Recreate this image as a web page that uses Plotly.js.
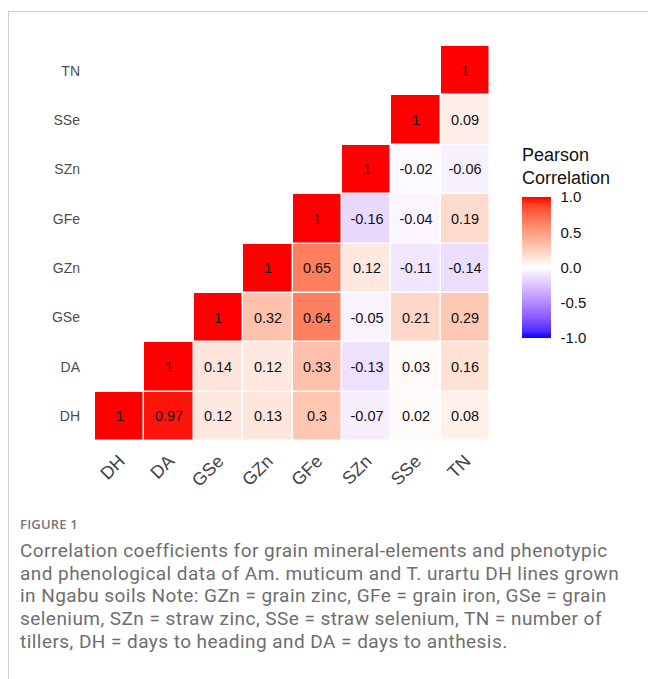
<!DOCTYPE html>
<html>
<head>
<meta charset="utf-8">
<script src="https://cdn.plot.ly/plotly-3.0.1.min.js"></script>
<style>
html,body{margin:0;padding:0;background:#fff;width:648px;height:679px;overflow:hidden;}
#frame{position:absolute;left:8px;top:11px;width:700px;height:700px;border:1px solid #cfcfcf;box-sizing:border-box;}
#chart{position:absolute;left:0;top:0;width:648px;height:679px;}
#fig{position:absolute;left:20px;top:515px;font-family:"Open Sans",sans-serif;font-size:13px;font-weight:600;color:#777;letter-spacing:0.2px;}
#cap{position:absolute;left:20px;top:540px;width:628px;font-family:Roboto,sans-serif;font-size:19px;line-height:22.7px;color:#6e6e6e;white-space:nowrap;letter-spacing:0.45px;}
</style>
</head>
<body>
<div id="frame"></div>
<div id="chart"></div>
<div id="fig">FIGURE 1</div>
<div id="cap">Correlation coefficients for grain mineral-elements and phenotypic<br>and phenological data of Am. muticum and T. urartu DH lines grown<br>in Ngabu soils Note: GZn = grain zinc, GFe = grain iron, GSe = grain<br>selenium, SZn = straw zinc, SSe = straw selenium, TN = number of<br>tillers, DH = days to heading and DA = days to anthesis.</div>
<script>
// Variables (x: left to right, y: bottom to top)
var vars = ['DH','DA','GSe','GZn','GFe','SZn','SSe','TN'];
// Correlation rows (row variable, values across columns)
var rowDH  = [1, 0.97, 0.12, 0.13, 0.3, -0.07, 0.02, 0.08];
var rowDA  = [null, 1, 0.14, 0.12, 0.33, -0.13, 0.03, 0.16];
var rowGSe = [null, null, 1, 0.32, 0.64, -0.05, 0.21, 0.29];
var rowGZn = [null, null, null, 1, 0.65, 0.12, -0.11, -0.14];
var rowGFe = [null, null, null, null, 1, -0.16, -0.04, 0.19];
var rowSZn = [null, null, null, null, null, 1, -0.02, -0.06];
var rowSSe = [null, null, null, null, null, null, 1, 0.09];
var rowTN  = [null, null, null, null, null, null, null, 1];
var colorTicks = [-1.0, -0.5, 0.0, 0.5, 1.0];

var z = [rowDH, rowDA, rowGSe, rowGZn, rowGFe, rowSZn, rowSSe, rowTN];
var text = z.map(function(r){ return r.map(function(v){ return v === null ? '' : String(v); }); });

// Lab interpolation blue - white - red (like ggplot2 gradient2)
function srgb2lin(c){ c/=255; return c<=0.04045? c/12.92 : Math.pow((c+0.055)/1.055,2.4); }
function lin2srgb(c){ c = c<=0.0031308? 12.92*c : 1.055*Math.pow(c,1/2.4)-0.055; return Math.max(0,Math.min(255,Math.round(c*255))); }
function rgb2lab(rgb){
  var r=srgb2lin(rgb[0]), g=srgb2lin(rgb[1]), b=srgb2lin(rgb[2]);
  var X=(0.4124*r+0.3576*g+0.1805*b)/0.95047, Y=(0.2126*r+0.7152*g+0.0722*b), Z=(0.0193*r+0.1192*g+0.9505*b)/1.08883;
  function f(t){ return t>0.008856? Math.cbrt(t) : 7.787*t+16/116; }
  var fx=f(X), fy=f(Y), fz=f(Z);
  return [116*fy-16, 500*(fx-fy), 200*(fy-fz)];
}
function lab2rgb(lab){
  var fy=(lab[0]+16)/116, fx=fy+lab[1]/500, fz=fy-lab[2]/200;
  function fi(t){ return t*t*t>0.008856? t*t*t : (t-16/116)/7.787; }
  var X=fi(fx)*0.95047, Y=fi(fy), Z=fi(fz)*1.08883;
  var r= 3.2406*X-1.5372*Y-0.4986*Z, g=-0.9689*X+1.8758*Y+0.0415*Z, b=0.0557*X-0.2040*Y+1.0570*Z;
  return 'rgb('+lin2srgb(r)+','+lin2srgb(g)+','+lin2srgb(b)+')';
}
var labB=rgb2lab([0,0,255]), labW=rgb2lab([255,255,255]), labR=rgb2lab([255,0,0]);
var cs=[];
var N=20;
for(var i=0;i<=N;i++){
  var t=i/N, a, b2, u;
  if(t<=0.5){ a=labB; b2=labW; u=t/0.5; } else { a=labW; b2=labR; u=(t-0.5)/0.5; }
  cs.push([t, lab2rgb([a[0]+(b2[0]-a[0])*u, a[1]+(b2[1]-a[1])*u, a[2]+(b2[2]-a[2])*u])]);
}

var FONT = 'Liberation Sans, Arial, sans-serif';
var PLOT_H = 679 - 46 - 238, PLOT_W = 648 - 95 - 158;
var CB_X = 1.081, CB_Y = 0.439, CB_LEN = 141, CB_TH = 29;

var trace = {
  type:'heatmap',
  x: vars, y: vars, z: z,
  text: text, texttemplate:'%{text}',
  textfont:{family:FONT, size:14.5, color:'#111'},
  colorscale: cs, zmin:-1, zmax:1,
  xgap:1.5, ygap:1.5, hoverongaps:false,
  colorbar:{
    x:CB_X, xanchor:'left', xref:'paper',
    y:CB_Y, yanchor:'middle',
    len:CB_LEN, lenmode:'pixels', thickness:CB_TH, thicknessmode:'pixels',
    xpad:0, ypad:0, outlinewidth:0,
    tickvals: colorTicks, ticktext: colorTicks.map(function(v){return v.toFixed(1);}),
    ticks:'outside', ticklen:7, tickcolor:'rgba(255,255,255,0)', tickwidth:1,
    tickfont:{family:FONT, size:15, color:'#111'}
  }
};

// white tick marks inside the colorbar (ggplot style), placed from the colorbar geometry
var shapes = [];
colorTicks.forEach(function(v){
  var yp = CB_Y + v * (CB_LEN/2) / PLOT_H;
  var x0 = CB_X, x1 = CB_X + CB_TH / PLOT_W, tl = 6 / PLOT_W;
  shapes.push({type:'line', xref:'paper', yref:'paper', x0:x0, x1:x0+tl, y0:yp, y1:yp, line:{color:'#fff', width:1.2}});
  shapes.push({type:'line', xref:'paper', yref:'paper', x0:x1-tl, x1:x1, y0:yp, y1:yp, line:{color:'#fff', width:1.2}});
});

var layout = {
  width:648, height:679,
  margin:{l:95, r:158, t:46, b:238},
  paper_bgcolor:'rgba(0,0,0,0)', plot_bgcolor:'rgba(0,0,0,0)',
  xaxis:{type:'category', categoryarray:vars, categoryorder:'array', showgrid:false, zeroline:false, showline:false,
         tickangle:-45, ticks:'', ticklabelstandoff:5,
         tickfont:{family:FONT, size:18, color:'#444'}},
  yaxis:{type:'category', categoryarray:vars, categoryorder:'array', showgrid:false, zeroline:false, showline:false,
         ticks:'', ticklabelstandoff:14,
         tickfont:{family:FONT, size:14, color:'#4d4d4d'}},
  annotations:[{
    text:'Pearson<br>Correlation', xref:'paper', yref:'paper', x:CB_X, y:0.636,
    xanchor:'left', yanchor:'bottom', align:'left', showarrow:false, xshift:-2,
    font:{family:FONT, size:18, color:'#111'}
  }],
  shapes: shapes,
  showlegend:false
};

Plotly.newPlot('chart', [trace], layout, {displayModeBar:false, staticPlot:true});
</script>
</body>
</html>
